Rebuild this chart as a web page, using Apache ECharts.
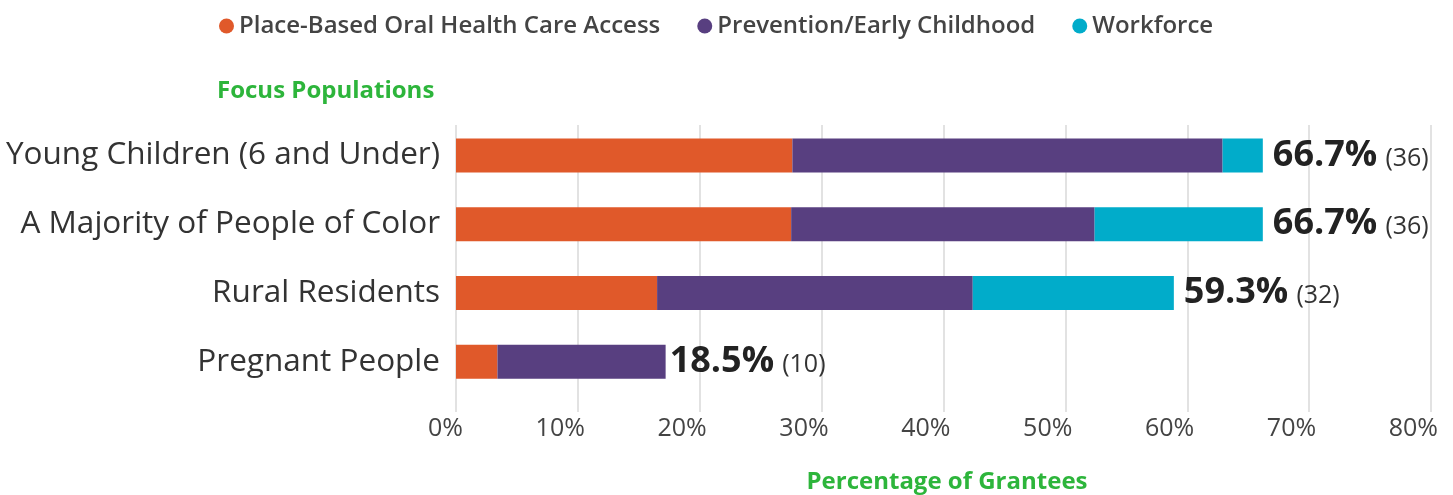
<!DOCTYPE html>
<html><head><meta charset="utf-8">
<script src="https://cdn.jsdelivr.net/npm/echarts@6/dist/echarts.min.js"></script>
<style>html,body{margin:0;padding:0;background:#fff}#c{width:1453px;height:495px}</style>
</head><body><div id="c"></div>
<script>
const categories = ['Young Children (6 and Under)', 'A Majority of People of Color', 'Rural Residents', 'Pregnant People'];
const placeBased = [27.6, 27.5, 16.5, 3.4];
const prevention = [35.3, 24.9, 25.9, 13.8];
const workforce = [3.3, 13.8, 16.5, 0];
const totalPct = ['66.7%', '66.7%', '59.3%', '18.5%'];
const totalCount = [36, 36, 32, 10];
const xTicks = [0, 10, 20, 30, 40, 50, 60, 70, 80];

const font = '"Open Sans", "Noto Sans", sans-serif';
const chart = echarts.init(document.getElementById('c'));
const labelData = categories.map((c, i) => i === categories.length - 1 ? { value: 0, label: { distance: 4 } } : 0);
chart.setOption({
  animation: false,
  textStyle: { fontFamily: font },
  legend: {
    data: ['Place-Based Oral Health Care Access', 'Prevention/Early Childhood', 'Workforce'],
    top: 9, left: 214,
    icon: 'circle', itemWidth: 15, itemHeight: 15, itemGap: 37,
    textStyle: { fontFamily: font, fontSize: 24, fontWeight: 600, color: '#444' }
  },
  title: [
    { text: 'Focus Populations', left: 212, top: 74, textStyle: { fontFamily: font, fontSize: 24, fontWeight: 700, color: '#2db53b' } },
    { text: 'Percentage of Grantees', left: 942, textAlign: 'center', top: 465, textStyle: { fontFamily: font, fontSize: 24, fontWeight: 700, color: '#2db53b' } }
  ],
  grid: [
    { left: 456, right: 22, top: 121, bottom: 99, outerBoundsMode: 'none', containLabel: false },
    { left: 456, right: 22, top: 125, bottom: 83, outerBoundsMode: 'none', containLabel: false }
  ],
  xAxis: [
    {
      type: 'value', gridIndex: 0, min: xTicks[0], max: xTicks[xTicks.length - 1], interval: 10,
      axisLine: { show: false }, axisTick: { show: false }, splitLine: { show: false },
      axisLabel: { formatter: v => v + '%', fontFamily: font, fontSize: 25, color: '#444', margin: 20, align: 'right', padding: [0, -7, 0, 0] }
    },
    {
      type: 'value', gridIndex: 1, min: xTicks[0], max: xTicks[xTicks.length - 1], interval: 10,
      axisLine: { show: false }, axisTick: { show: false }, axisLabel: { show: false },
      splitLine: { lineStyle: { color: '#d9d9d9', width: 1.5 } }
    }
  ],
  yAxis: [
    {
      type: 'category', gridIndex: 0, data: categories, inverse: true, z: 3,
      axisLine: { show: false }, axisTick: { show: false },
      axisLabel: { fontFamily: font, fontSize: 31.5, color: '#333', margin: 16 }
    },
    {
      type: 'category', gridIndex: 1, data: categories, inverse: true, show: false
    }
  ],
  series: [
    { name: 'Place-Based Oral Health Care Access', type: 'bar', stack: 's', data: placeBased, barWidth: 34, z: 3, itemStyle: { color: '#e0592a' } },
    { name: 'Prevention/Early Childhood', type: 'bar', stack: 's', data: prevention, barWidth: 34, z: 3, itemStyle: { color: '#583f80' } },
    { name: 'Workforce', type: 'bar', stack: 's', data: workforce, barWidth: 34, z: 3, itemStyle: { color: '#01acca' } },
    { name: 'total', type: 'bar', stack: 's', data: labelData, barWidth: 34, z: 3,
      label: {
        show: true, position: 'right', distance: 10,
        formatter: p => '{a|' + totalPct[p.dataIndex] + '} {b|(' + totalCount[p.dataIndex] + ')}',
        rich: {
          a: { fontFamily: font, fontSize: 36, fontWeight: 700, color: '#222' },
          b: { fontFamily: font, fontSize: 25, color: '#333', padding: [6, 0, 0, 5] }
        }
      }
    }
  ]
});
</script></body></html>
